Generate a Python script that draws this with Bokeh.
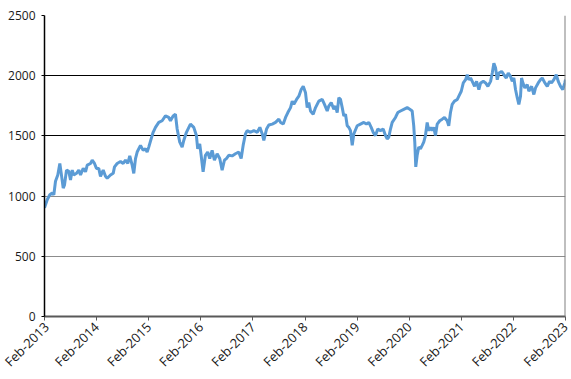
import math
from datetime import datetime, timedelta
from bokeh.plotting import figure
from bokeh.models import FixedTicker, DatetimeTickFormatter, Grid, Span, Range1d
from bokeh.embed import file_html
from bokeh.resources import INLINE

# dates as decimal years
years = [
    2013.085, 2013.137, 2013.187, 2013.233, 2013.264, 2013.296, 2013.340, 2013.379, 2013.406, 2013.444,
    2013.469, 2013.507, 2013.551, 2013.584, 2013.617, 2013.647, 2013.699, 2013.743, 2013.776, 2013.828,
    2013.872, 2013.905, 2013.968, 2014.001, 2014.045, 2014.083, 2014.127, 2014.160, 2014.212, 2014.256,
    2014.289, 2014.352, 2014.404, 2014.429, 2014.480, 2014.544, 2014.596, 2014.640, 2014.684, 2014.722,
    2014.768, 2014.799, 2014.832,
    2014.864, 2014.928, 2014.979, 2015.024, 2015.056, 2015.087, 2015.133, 2015.171, 2015.216, 2015.279,
    2015.344, 2015.407, 2015.471, 2015.503, 2015.555, 2015.599, 2015.632, 2015.682, 2015.728, 2015.759,
    2015.810, 2015.887, 2015.951, 2016.002, 2016.027, 2016.066, 2016.093, 2016.131, 2016.175, 2016.219,
    2016.258, 2016.304, 2016.348, 2016.400, 2016.450, 2016.496, 2016.540,
    2016.578, 2016.623, 2016.688, 2016.751, 2016.814, 2016.861, 2016.899, 2016.943, 2016.976, 2017.039,
    2017.102, 2017.168, 2017.218, 2017.264, 2017.294, 2017.346, 2017.390, 2017.456, 2017.519, 2017.582,
    2017.615, 2017.667, 2017.711, 2017.755, 2017.807, 2017.839, 2017.870, 2017.922, 2017.966, 2018.012,
    2018.051, 2018.095, 2018.127, 2018.158, 2018.191, 2018.242, 2018.287,
    2018.350, 2018.415, 2018.459, 2018.511, 2018.542, 2018.588, 2018.638, 2018.670, 2018.703, 2018.734,
    2018.766, 2018.799, 2018.830, 2018.862, 2018.895, 2018.926, 2018.958, 2018.991, 2019.022, 2019.087,
    2019.150, 2019.214, 2019.265, 2019.310, 2019.356, 2019.394, 2019.438, 2019.482, 2019.534, 2019.586,
    2019.630, 2019.663, 2019.693, 2019.726, 2019.759, 2019.822, 2019.866, 2019.918, 2019.981,
    2020.047, 2020.097, 2020.143, 2020.173, 2020.193, 2020.212, 2020.239, 2020.269, 2020.302, 2020.335,
    2020.365, 2020.398, 2020.431, 2020.461, 2020.494, 2020.527, 2020.557, 2020.590, 2020.623, 2020.673,
    2020.719, 2020.763, 2020.815, 2020.845, 2020.878, 2020.911, 2020.955, 2021.007, 2021.037, 2021.083,
    2021.122, 2021.166, 2021.198, 2021.229, 2021.262, 2021.294, 2021.339, 2021.377, 2021.421, 2021.454,
    2021.506, 2021.550, 2021.594, 2021.646, 2021.678, 2021.709, 2021.742,
    2021.774, 2021.805, 2021.857, 2021.901, 2021.947, 2021.985, 2022.029, 2022.062, 2022.093, 2022.125,
    2022.158, 2022.189, 2022.221, 2022.241, 2022.266, 2022.304, 2022.350, 2022.381, 2022.433, 2022.477,
    2022.509, 2022.561, 2022.605, 2022.638, 2022.688, 2022.734, 2022.778, 2022.816, 2022.861, 2022.907,
    2022.945, 2022.989, 2023.033, 2023.072, 2023.085,
]
values = [
    902, 970, 1011, 1025, 1011, 1123, 1175, 1271, 1189, 1066,
    1093, 1216, 1205, 1134, 1216, 1175, 1189, 1216, 1175, 1230,
    1202, 1257, 1271, 1298, 1271, 1230, 1230, 1164, 1216, 1164,
    1148, 1175, 1189, 1243, 1271, 1287, 1271, 1298, 1271, 1334,
    1257, 1189, 1311,
    1366, 1421, 1380, 1393, 1366, 1407, 1475, 1530, 1571, 1612,
    1626, 1666, 1653, 1626, 1666, 1680, 1557, 1448, 1407, 1462,
    1530, 1598, 1571, 1503, 1393, 1434, 1339, 1202, 1339, 1366,
    1312, 1380, 1298, 1352, 1312, 1216, 1298,
    1312, 1339, 1334, 1352, 1366, 1312, 1421, 1516, 1544, 1530,
    1544, 1530, 1571, 1516, 1462, 1557, 1590, 1598, 1612, 1639,
    1612, 1598, 1653, 1694, 1735, 1789, 1762, 1803, 1830, 1885,
    1912, 1858, 1735, 1776, 1707, 1680, 1735,
    1789, 1803, 1762, 1707, 1748, 1776, 1721, 1748, 1694, 1817,
    1803, 1735, 1666, 1680, 1584, 1571, 1544, 1421, 1516, 1584,
    1598, 1612, 1598, 1612, 1571, 1530, 1503, 1557, 1544, 1557,
    1503, 1475, 1489, 1557, 1612, 1653, 1694, 1707, 1721,
    1735, 1721, 1707, 1584, 1448, 1243, 1339, 1407, 1393, 1421,
    1448, 1503, 1612, 1544, 1571, 1544, 1571, 1503, 1598, 1626,
    1639, 1653, 1626, 1584, 1694, 1762, 1789, 1803, 1830, 1871,
    1940, 1967, 2008, 1967, 1981, 1953, 1912, 1953, 1885, 1940,
    1953, 1940, 1912, 1953, 2022, 2104, 2063,
    1967, 2022, 2035, 2008, 1981, 2022, 1994, 1953, 1981, 1885,
    1817, 1762, 1830, 1981, 1940, 1899, 1926, 1871, 1912, 1844,
    1899, 1940, 1967, 1981, 1940, 1912, 1953, 1940, 1967, 2008,
    1953, 1912, 1885, 1940, 1967,
]
tick_years = list(range(2013, 2024))
y_ticks = [0, 500, 1000, 1500, 2000, 2500]


def to_dt(y):
    yr = int(math.floor(y))
    start = datetime(yr, 1, 1)
    return start + timedelta(days=(y - yr) * 365.25)


dates = [to_dt(y) for y in years]
tick_ms = [datetime(y, 2, 1).timestamp() * 1000 for y in tick_years]

p = figure(width=571, height=379, x_axis_type="datetime", output_backend="svg",
           toolbar_location=None, min_border_left=44, min_border_right=6,
           min_border_top=15, min_border_bottom=59)
p.x_range = Range1d(tick_ms[0], tick_ms[-1])
p.y_range = Range1d(0, 2500)
p.outline_line_color = None
p.background_fill_color = "white"
p.border_fill_color = "white"

p.xgrid.grid_line_color = None
p.ygrid.grid_line_color = None

p.add_layout(Grid(dimension=1, ticker=FixedTicker(ticks=[500, 1000]),
                  grid_line_color="#8c8c8c", grid_line_width=1.2))
p.add_layout(Grid(dimension=1, ticker=FixedTicker(ticks=[1500, 2000, 2500]),
                  grid_line_color="#000000", grid_line_width=1.2))
p.add_layout(Span(location=tick_ms[-1], dimension="height", line_color="#808080", line_width=2))

p.line(dates, values, line_color="#5b9bd5", line_width=3)

fmt = "%b-%Y"
p.xaxis.ticker = FixedTicker(ticks=tick_ms)
p.xaxis.formatter = DatetimeTickFormatter(years=fmt, months=fmt, days=fmt, hours=fmt,
                                          minutes=fmt, seconds=fmt, milliseconds=fmt,
                                          minsec=fmt, hourmin=fmt)
p.xaxis.major_label_orientation = math.pi / 4
p.xaxis.axis_line_color = "#595959"
p.xaxis.axis_line_width = 2
p.xaxis.major_tick_line_color = "#595959"
p.xaxis.major_tick_out = 4
p.xaxis.major_tick_in = 0
p.xaxis.minor_tick_line_color = None
p.xaxis.major_label_standoff = 4
p.xaxis.major_label_text_font_size = "13px"

p.yaxis.ticker = FixedTicker(ticks=y_ticks)
p.yaxis.axis_line_color = "#000000"
p.yaxis.axis_line_width = 1.5
p.yaxis.major_tick_line_color = "#000000"
p.yaxis.major_tick_out = 3
p.yaxis.major_tick_in = 0
p.yaxis.minor_tick_line_color = None
p.yaxis.major_label_standoff = 6
p.yaxis.major_label_text_font_size = "12px"

for ax in (p.xaxis, p.yaxis):
    ax.major_label_text_font = "Open Sans"
    ax.major_label_text_color = "#1a1a1a"

open("out.html", "w").write(file_html(p, INLINE))
